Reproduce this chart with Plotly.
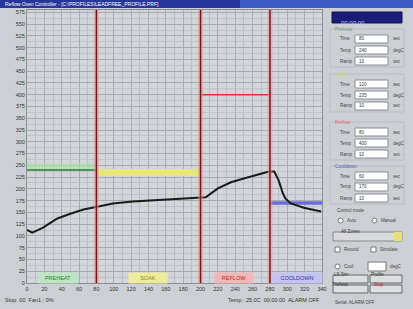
import plotly.graph_objects as go

# ---------------- data ----------------
time_s = [0, 6, 18, 35, 50, 65, 81, 99, 122, 157, 196, 206, 220, 235, 254, 273, 279, 285, 290, 295, 298, 304, 319, 339]
temp_c = [113, 107, 117, 137, 147, 156, 162, 169, 173, 177, 182, 182, 201, 214, 224, 235, 237, 237, 218, 190, 179, 169, 160, 152]

zone_names = ["PREHEAT", "SOAK", "REFLOW", "COOLDOWN"]
zone_start = [0, 80, 200, 280]
zone_end = [80, 200, 280, 340]
zone_setpoint = [240, 235, 400, 170]
zone_bounds = [80, 200, 280]
zone_label_x = [36, 139, 238, 311]

x_ticks = list(range(0, 341, 20))
y_ticks = list(range(0, 576, 25))

# ---------------- layout helpers ----------------
W, H = 413, 309
PL, PR, PT, PB = 27, 322, 10, 283


def pxx(x):
    return (x - PL) / (PR - PL)


def pxy(y):
    return (PB - y) / (PB - PT)


FONT = "Liberation Sans, Arial, sans-serif"
fig = go.Figure()

zone_line_colors = ["#2e7d32", "#e6e67a", "#e03030", "#6a6ad8"]
zone_line_widths = [1.5, 7, 1.5, 3.5]
zone_box_colors = ["#bfe6c4", "#ecec9a", "#f2b8b8", "#c4c4f0"]
zone_text_colors = ["#2e7d32", "#8a8a20", "#c02020", "#3030a0"]

# green glow above preheat setpoint
fig.add_trace(go.Scatter(x=[zone_start[0], zone_end[0]], y=[zone_setpoint[0] + 8] * 2,
                         mode="lines", line=dict(color="rgba(170,225,170,0.6)", width=7),
                         hoverinfo="skip", showlegend=False))

for i in range(4):
    fig.add_trace(go.Scatter(x=[zone_start[i], zone_end[i]], y=[zone_setpoint[i]] * 2,
                             mode="lines",
                             line=dict(color=zone_line_colors[i], width=zone_line_widths[i]),
                             hoverinfo="skip", showlegend=False))

# zone boundaries (pink halo + dark red line)
for b in zone_bounds:
    fig.add_shape(type="line", xref="x", yref="paper", x0=b, x1=b, y0=0, y1=1,
                  line=dict(color="rgba(235,150,150,0.55)", width=5), layer="above")
    fig.add_shape(type="line", xref="x", yref="paper", x0=b, x1=b, y0=0, y1=1,
                  line=dict(color="#7a1818", width=1.5), layer="above")

# temperature curve
fig.add_trace(go.Scatter(x=time_s, y=temp_c, mode="lines",
                         line=dict(color="#1a1a1a", width=2), showlegend=False))

# zone labels
for i in range(4):
    fig.add_annotation(x=zone_label_x[i], y=10,
                       xref="x", yref="y", text=zone_names[i], showarrow=False,
                       font=dict(size=5.5, color=zone_text_colors[i], family=FONT),
                       bgcolor=zone_box_colors[i], borderpad=2, width=34 if i < 3 else 46)

# ---------------- window chrome ----------------
# title bar
fig.add_shape(type="rect", xref="paper", yref="paper", x0=pxx(0), x1=pxx(W), y0=pxy(0), y1=pxy(8),
              fillcolor="#27369a", line_width=0, layer="below")
fig.add_shape(type="rect", xref="paper", yref="paper", x0=pxx(240), x1=pxx(W), y0=pxy(0), y1=pxy(8),
              fillcolor="#3a5cc4", line_width=0, layer="below")
fig.add_annotation(xref="paper", yref="paper", x=pxx(3), y=pxy(4), xanchor="left", yanchor="middle",
                   text="Reflow Oven Controller - [C:\\PROFILES\\LEADFREE_PROFILE.PRF]", showarrow=False,
                   font=dict(size=5, color="white", family=FONT))

# status bar
fig.add_annotation(xref="paper", yref="paper", x=pxx(3), y=pxy(300), xanchor="left", yanchor="middle",
                   text="Stop  00  Fan1 : 0%", showarrow=False, font=dict(size=5.5, color="#333", family=FONT))
fig.add_annotation(xref="paper", yref="paper", x=pxx(322), y=pxy(300), xanchor="right", yanchor="middle",
                   text="Temp : 25.0C  00:00:00  ALARM OFF", showarrow=False,
                   font=dict(size=5.5, color="#333", family=FONT))

# right panel
fig.add_shape(type="rect", xref="paper", yref="paper", x0=pxx(332), x1=pxx(402), y0=pxy(12), y1=pxy(23),
              fillcolor="#1c1c78", line=dict(color="#101050", width=1))
fig.add_annotation(xref="paper", yref="paper", x=pxx(367), y=pxy(17.5), text="00:00:00", showarrow=False,
                   font=dict(size=6, color="#c8c8ff", family=FONT))

groups = [("Preheat", "#7a9a7a", [39, 50, 61], ["80", "240", "10"]),
          ("Soak", "#d8d860", [84, 95, 106], ["120", "235", "10"]),
          ("Reflow", "#e07070", [132, 143, 154], ["80", "400", "10"]),
          ("Cooldown", "#6060c0", [176, 187, 198], ["60", "170", "10"])]
row_labels = ["Time", "Temp", "Ramp"]
row_units = ["sec", "degC", "sec"]
for name, col, rows, vals in groups:
    fig.add_annotation(xref="paper", yref="paper", x=pxx(333), y=pxy(rows[0] - 10), xanchor="left",
                       yanchor="middle", text=name, showarrow=False, font=dict(size=5, color=col, family=FONT))
    fig.add_shape(type="rect", xref="paper", yref="paper", x0=pxx(330), x1=pxx(404),
                  y0=pxy(rows[0] - 10), y1=pxy(rows[2] + 6), line=dict(color="#b8bcc0", width=1))
    for r, lab, unit, v in zip(rows, row_labels, row_units, vals):
        fig.add_shape(type="rect", xref="paper", yref="paper", x0=pxx(355), x1=pxx(388),
                      y0=pxy(r - 4), y1=pxy(r + 4), fillcolor="white", line=dict(color="#8a8e94", width=1))
        fig.add_annotation(xref="paper", yref="paper", x=pxx(338), y=pxy(r), xanchor="left", yanchor="middle",
                           text=lab, showarrow=False, font=dict(size=4.5, color="#444", family=FONT))
        fig.add_annotation(xref="paper", yref="paper", x=pxx(357), y=pxy(r), xanchor="left", yanchor="middle",
                           text=v, showarrow=False, font=dict(size=4.5, color="#333", family=FONT))
        fig.add_annotation(xref="paper", yref="paper", x=pxx(391), y=pxy(r), xanchor="left", yanchor="middle",
                           text=unit, showarrow=False, font=dict(size=4.5, color="#444", family=FONT))

fig.add_annotation(xref="paper", yref="paper", x=pxx(335), y=pxy(210), xanchor="left", yanchor="middle",
                   text="Control mode", showarrow=False, font=dict(size=4.5, color="#444", family=FONT))
for xx, lab in [(338, "Auto"), (372, "Manual")]:
    fig.add_shape(type="circle", xref="paper", yref="paper", x0=pxx(xx), x1=pxx(xx + 5),
                  y0=pxy(218), y1=pxy(223), fillcolor="white", line=dict(color="#777", width=1))
    fig.add_annotation(xref="paper", yref="paper", x=pxx(xx + 7), y=pxy(220.5), xanchor="left",
                       yanchor="middle", text=lab, showarrow=False, font=dict(size=4.5, color="#444", family=FONT))

fig.add_shape(type="rect", xref="paper", yref="paper", x0=pxx(333), x1=pxx(402), y0=pxy(232), y1=pxy(241),
              fillcolor="#d8dadc", line=dict(color="#888", width=1))
fig.add_shape(type="rect", xref="paper", yref="paper", x0=pxx(394), x1=pxx(402), y0=pxy(232), y1=pxy(241),
              fillcolor="#e8e070", line_width=0)
fig.add_annotation(xref="paper", yref="paper", x=pxx(363), y=pxy(236.5), text="All Zones", showarrow=False,
                   font=dict(size=4.5, color="#333", family=FONT))
for xx, lab in [(335, "Record"), (371, "Simulate")]:
    fig.add_shape(type="rect", xref="paper", yref="paper", x0=pxx(xx), x1=pxx(xx + 5),
                  y0=pxy(247), y1=pxy(252), fillcolor="white", line=dict(color="#777", width=1))
    fig.add_annotation(xref="paper", yref="paper", x=pxx(xx + 7), y=pxy(249.5), xanchor="left",
                       yanchor="middle", text=lab, showarrow=False, font=dict(size=4.5, color="#444", family=FONT))
fig.add_shape(type="circle", xref="paper", yref="paper", x0=pxx(335), x1=pxx(340),
              y0=pxy(264), y1=pxy(269), fillcolor="white", line=dict(color="#777", width=1))
fig.add_annotation(xref="paper", yref="paper", x=pxx(342), y=pxy(266.5), xanchor="left", yanchor="middle",
                   text="Cool", showarrow=False, font=dict(size=4.5, color="#444", family=FONT))
fig.add_shape(type="rect", xref="paper", yref="paper", x0=pxx(368), x1=pxx(386), y0=pxy(262), y1=pxy(271),
              fillcolor="white", line=dict(color="#777", width=1))
fig.add_annotation(xref="paper", yref="paper", x=pxx(388), y=pxy(266.5), xanchor="left", yanchor="middle",
                   text="degC", showarrow=False, font=dict(size=4.5, color="#444", family=FONT))
buttons = [(333, 368, 275, 283, "LS Sim", "#333"), (370, 402, 275, 283, "Profile", "#333"),
           (333, 368, 285, 293, "Preheat", "#333"), (370, 402, 285, 293, "Stop", "#c02020")]
for x0, x1, y0, y1, lab, c in buttons:
    fig.add_shape(type="rect", xref="paper", yref="paper", x0=pxx(x0), x1=pxx(x1), y0=pxy(y0), y1=pxy(y1),
                  fillcolor="#dcdee0", line=dict(color="#666", width=1))
    fig.add_annotation(xref="paper", yref="paper", x=pxx((x0 + x1) / 2), y=pxy((y0 + y1) / 2), text=lab,
                       showarrow=False, font=dict(size=4.5, color=c, family=FONT))
fig.add_annotation(xref="paper", yref="paper", x=pxx(333), y=pxy(302), xanchor="left", yanchor="middle",
                   text="Serial: ALARM OFF", showarrow=False, font=dict(size=4.5, color="#444", family=FONT))

# ---------------- axes ----------------
fig.update_layout(
    width=W, height=H,
    margin=dict(l=PL, r=W - PR, t=PT, b=H - PB, pad=0),
    paper_bgcolor="#ccd0d4",
    plot_bgcolor="#d2d6da",
    font=dict(family=FONT, size=6, color="#333"),
    xaxis=dict(range=[0, 340], tickvals=x_ticks, ticktext=[str(v) for v in x_ticks],
               showgrid=True, gridcolor="#a8acb2", gridwidth=1, zeroline=False,
               minor=dict(dtick=10, showgrid=True, gridcolor="#bcc0c6"),
               ticks="", tickfont=dict(size=5.5, color="#333"), showline=True, linecolor="#8a8e94",
               mirror=True),
    yaxis=dict(range=[0, 580], tickvals=y_ticks, ticktext=[str(v) for v in y_ticks],
               showgrid=True, gridcolor="#a8acb2", gridwidth=1, zeroline=False,
               minor=dict(dtick=12.5, showgrid=True, gridcolor="#c0c4ca"),
               ticks="", tickfont=dict(size=5.5, color="#333"), showline=True, linecolor="#8a8e94",
               mirror=True),
    showlegend=False,
)

fig.write_html("out.html", config={"displayModeBar": False},
               post_script="document.body.style.margin='0';document.body.style.overflow='hidden';")
